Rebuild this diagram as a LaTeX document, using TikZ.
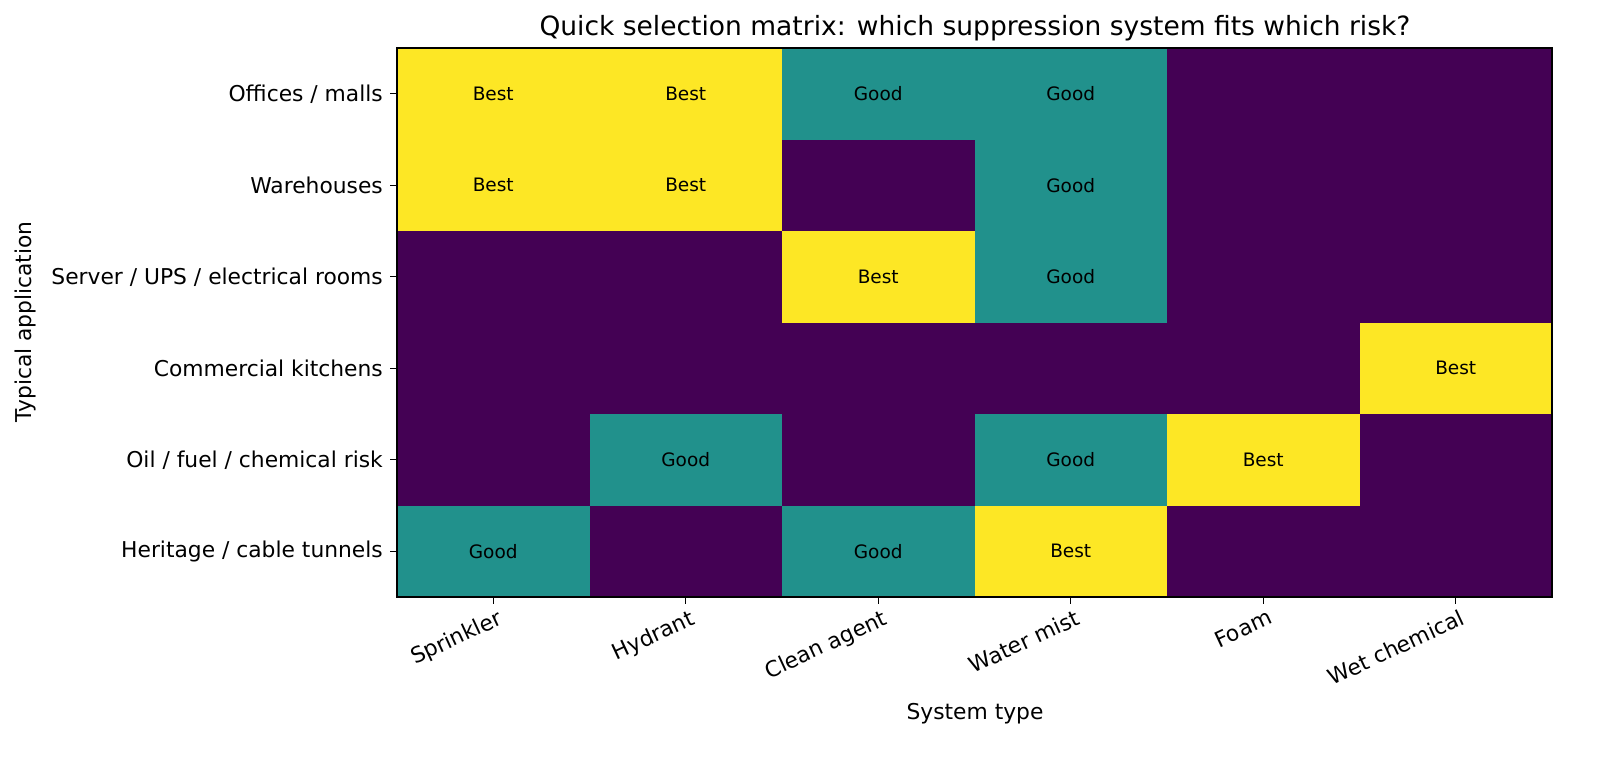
\documentclass[tikz,border=0pt]{standalone}
\usepackage{fontspec}
\setmainfont{DejaVu Sans}
\definecolor{vy}{HTML}{FDE725}
\definecolor{vt}{HTML}{21918C}
\definecolor{vp}{HTML}{440154}
\begin{document}
\begin{tikzpicture}[x=1pt,y=-1pt,
  cell/.style={font=\fontsize{18.5}{18.5}\selectfont},
  tick/.style={font=\fontsize{21.8}{22}\selectfont}]
\useasboundingbox (0,0) rectangle (1600,757);
\def\cw{192.5}\def\rh{91.5}
\foreach \row [count=\r from 0] in {{2,2,1,1,0,0},{2,2,0,1,0,0},{0,0,2,1,0,0},{0,0,0,0,0,2},{0,1,0,1,2,0},{1,0,1,2,0,0}}{%
  \foreach \v [count=\c from 0] in \row {%
    \pgfmathsetmacro{\xa}{397+\c*\cw}%
    \pgfmathsetmacro{\ya}{48+\r*\rh}%
    \ifcase\v
      \fill[vp] (\xa,\ya) rectangle ++(\cw,\rh);%
    \or
      \fill[vt] (\xa,\ya) rectangle ++(\cw,\rh);%
      \node[cell] (c\r\c) at (\xa+\cw/2,\ya+\rh/2) {Good};%
    \or
      \fill[vy] (\xa,\ya) rectangle ++(\cw,\rh);%
      \node[cell] (c\r\c) at (\xa+\cw/2,\ya+\rh/2) {Best};%
    \fi
  }%
}
\draw[line width=1.2pt] (397,48) rectangle (1552,597);
\foreach \t [count=\i from 0] in {Offices / malls,Warehouses,Server / UPS / electrical rooms,Commercial kitchens,Oil / fuel / chemical risk,Heritage / cable tunnels}{%
  \pgfmathsetmacro{\yy}{48+\rh/2+\i*\rh}%
  \draw[line width=1.2pt] (397,\yy) -- (390,\yy);%
  \node[tick,anchor=east,inner sep=2pt] (y\i) at (385,\yy) {\t};%
}
\foreach \t [count=\i from 0] in {Sprinkler,Hydrant,Clean agent,Water mist,Foam,Wet chemical}{%
  \pgfmathsetmacro{\xx}{397+\cw/2+\i*\cw}%
  \draw[line width=1.2pt] (\xx,597) -- (\xx,604);%
  \node[tick,anchor=north east,rotate=25,inner sep=1pt] (x\i) at (\xx+4,607) {\t};%
}
\node[tick] (xl) at (975,714) {System type};
\node[tick,rotate=90] (yl) at (25,322) {Typical application};
\node[font=\fontsize{26.5}{26}\selectfont] (title) at (975,28) {Quick selection matrix: which suppression system fits which risk?};
\end{tikzpicture}
\end{document}
